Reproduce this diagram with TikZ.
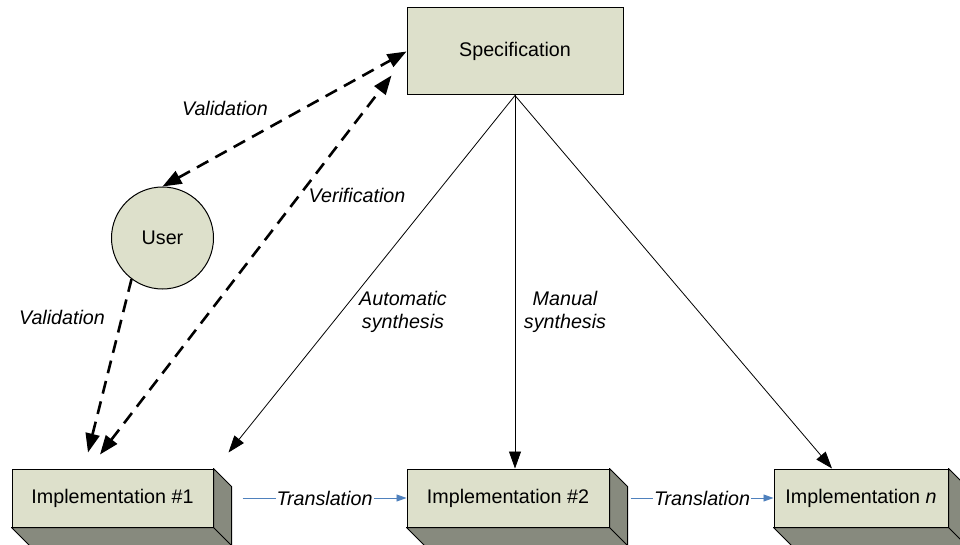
\documentclass[tikz,border=0pt]{standalone}
\usepackage{fontspec}
\setmainfont{Liberation Sans}
\usetikzlibrary{arrows.meta,calc,positioning}
\definecolor{boxfill}{RGB}{221,224,203}
\definecolor{sidefill}{RGB}{135,138,126}
\definecolor{transblue}{RGB}{79,129,189}
\tikzset{
  block/.style={draw,fill=boxfill,line width=1pt,inner sep=0pt},
  side/.style={draw,fill=sidefill,line width=1pt,line join=round},
  thinarrow/.style={-{Triangle[length=17pt,width=12pt]},line width=0.8pt},
  dasharrow/.style={{Triangle[length=19pt,width=14pt]}-{Triangle[length=19pt,width=14pt]},line width=2.6pt,dash pattern=on 13pt off 8pt},
  transarrow/.style={-{Triangle[length=10pt,width=7pt]},transblue,line width=0.9pt},
  lbl/.style={font=\fontsize{19.7}{23.6}\selectfont\itshape,align=center,text=black}
}
% side faces of the implementation blocks
\newcommand{\extrude}[1]{%
  \draw[side] (#1.north east) -- ++(18,18) -- ($(#1.south east)+(18,18)$)
    -- ($(#1.south west)+(18,18)$) -- (#1.south west) -- (#1.south east) -- cycle;
  \draw[line width=1pt] (#1.south east) -- ++(18,18);}
\begin{document}
\begin{tikzpicture}[x=1pt,y=-1pt,font=\fontsize{19.7}{23.6}\selectfont]
  \useasboundingbox (0,0) rectangle (960,545);
  \node[block,minimum width=216pt,minimum height=87pt] (spec) at (515,51.5) {Specification};
  \node[block,circle,minimum size=102pt] (user) at (162.5,238) {User};
  \node[block,minimum width=201pt,minimum height=58pt] (imp1) at (112.5,498) {Implementation \#1};
  \node[block,minimum width=202pt,minimum height=58pt] (imp2) at (508,498) {Implementation \#2};
  \node[block,minimum width=174pt,minimum height=58pt] (impn) at (861,498) {Implementation \textit{n}};
  \extrude{imp1}
  \extrude{imp2}
  \extrude{impn}

  % validation and verification
  \coordinate (vtop) at ($(spec.south west)+(-15,-20)$);
  \coordinate (vbot) at ($(imp1.north)+(-12.5,-14)$);
  \coordinate (ubot) at ($(imp1.north)+(-24.5,-16)$);
  \draw[dasharrow] (user.north) -- (spec.west);
  \draw[dasharrow] (vbot) -- (vtop);
  \draw[dasharrow,{}-{Triangle[length=19pt,width=14pt]}] (user.233) -- (ubot);
  \node[lbl] at (225,108) {Validation};
  \node[lbl] at (357,195) {Verification};
  \node[lbl] at (62,317) {Validation};

  % synthesis
  \coordinate (a1) at ($(imp1.north east)+(15,-16)$);
  \coordinate (an) at ($(impn.north)+(-29,0)$);
  \draw[thinarrow] (spec.south) -- (a1);
  \draw[thinarrow] (spec.south) -- (spec.south |- imp2.north);
  \draw[thinarrow] (spec.south) -- (an);
  \node[lbl] at (403,312) {Automatic\\synthesis};
  \node[lbl] at (565,312) {Manual\\synthesis};

  % translation
  \coordinate (t1) at ($(imp1.east)+(29,0)$);
  \coordinate (t2) at ($(imp2.east)+(21,0)$);
  \draw[transarrow] (t1) -- node[lbl,fill=white,inner sep=1pt] {Translation} (imp2.west);
  \draw[transarrow] (t2) -- node[lbl,fill=white,inner sep=1pt] {Translation} (impn.west);
\end{tikzpicture}
\end{document}
